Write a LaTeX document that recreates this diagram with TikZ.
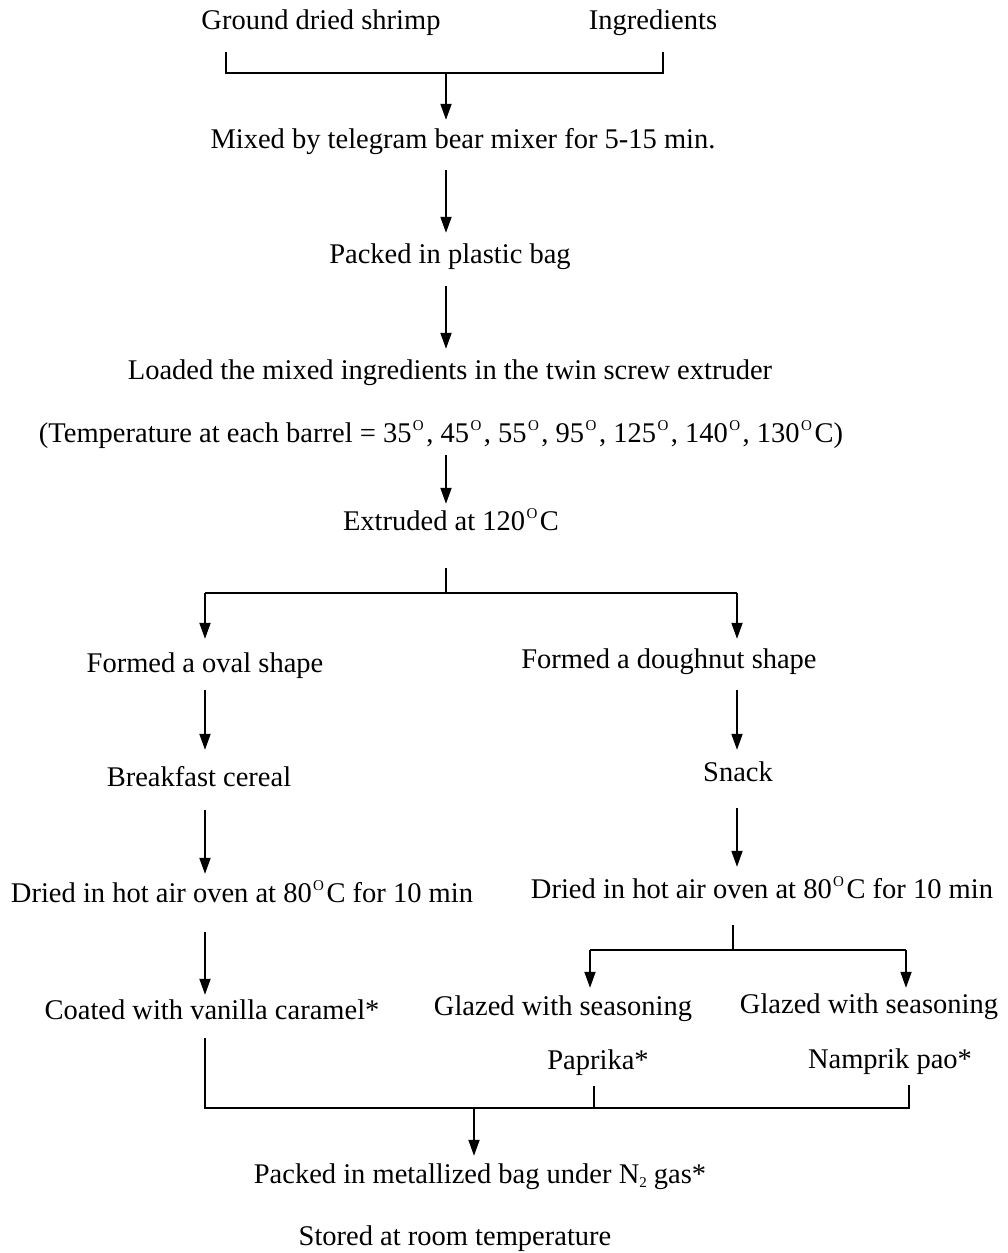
\documentclass[tikz,border=0pt]{standalone}
\usepackage{fontspec}
\setmainfont{Liberation Serif}
\usetikzlibrary{arrows.meta}
\newcommand{\dg}{\kern1.5pt\raisebox{12pt}{\fontsize{15}{15}\selectfont O}\kern2.5pt}
\begin{document}
\begin{tikzpicture}[x=1pt,y=-1pt,
  lbl/.style={inner sep=0pt, anchor=base, font=\fontsize{28.5}{30}\selectfont, text height=18pt, text depth=6pt},
  ln/.style={line width=1.8pt},
  arr/.style={line width=1.8pt, -{Triangle[length=16pt,width=11pt]}}]
\useasboundingbox (0,0) rectangle (1008,1253);
% columns
\coordinate (cM) at (446,0);
\coordinate (cL) at (205,0);
\coordinate (cR) at (737,0);
\coordinate (cB) at (474,0);
% nodes
\node[lbl] (gds) at (321,29) {Ground dried shrimp};
\node[lbl] (ing) at (653,29) {Ingredients};
\node[lbl] (mix) at (463,148) {Mixed by telegram bear mixer for 5-15 min.};
\node[lbl] (pk1) at (450,263) {Packed in plastic bag};
\node[lbl] (lod) at (450,379) {Loaded the mixed ingredients in the twin screw extruder};
\node[lbl] (tmp) at (441,442) {(Temperature at each barrel = 35\dg, 45\dg, 55\dg, 95\dg, 125\dg, 140\dg, 130\dg C)};
\node[lbl] (ext) at (451,530) {Extruded at 120\dg C};
\node[lbl] (ova) at (205,672) {Formed a oval shape};
\node[lbl] (dou) at (669,668) {Formed a doughnut shape};
\node[lbl] (brk) at (199,786) {Breakfast cereal};
\node[lbl] (snk) at (738,781) {Snack};
\node[lbl] (drL) at (242,902) {Dried in hot air oven at 80\dg C for 10 min};
\node[lbl] (drR) at (762,898) {Dried in hot air oven at 80\dg C for 10 min};
\node[lbl] (coa) at (212,1019) {Coated with vanilla caramel*};
\node[lbl] (gz1) at (563,1015) {Glazed with seasoning};
\node[lbl] (gz2) at (869,1013) {Glazed with seasoning};
\node[lbl] (pap) at (598,1069) {Paprika*};
\node[lbl] (nam) at (890,1068) {Namprik pao*};
\node[lbl] (pkN) at (480,1183) {Packed in metallized bag under N\raisebox{-4pt}{\fontsize{15}{15}\selectfont 2} gas*};
\node[lbl] (sto) at (455,1245) {Stored at room temperature};
% junction coordinates
\coordinate (j1L) at (226,73);
\coordinate (j1R) at (663,73);
\coordinate (j1) at (446,73);
\coordinate (j2) at (446,593);
\coordinate (j2L) at (205,593);
\coordinate (j2R) at (737,593);
\coordinate (j3) at (733,950);
\coordinate (j3L) at (590,950);
\coordinate (j3R) at (906,950);
\coordinate (j4L) at (205,1108);
\coordinate (j4P) at (594,1108);
\coordinate (j4N) at (909,1108);
\coordinate (j4) at (474,1108);
% top bracket
\draw[ln] (j1L |- 0,52) -- (j1L) -- (j1R) -- (j1R |- 0,52);
\draw[arr] (j1) -- (mix.north -| cM) [shorten >=10pt];
\draw[arr, shorten <=16pt, shorten >=12pt] (mix.south -| cM) -- (pk1.north -| cM);
\draw[arr, shorten <=17pt, shorten >=12pt] (pk1.south -| cM) -- (lod.north -| cM);
\draw[arr, shorten <=7pt, shorten >=8pt] (tmp.south -| cM) -- (ext.north -| cM);
% split after extrusion
\draw[ln, shorten <=32pt] (ext.south -| cM) -- (j2);
\draw[ln] (j2L) -- (j2R);
\draw[arr, shorten >=15pt] (j2L) -- (ova.north -| cL);
\draw[arr, shorten >=11pt] (j2R) -- (dou.north -| cR);
% left column
\draw[arr, shorten <=12pt, shorten >=18pt] (ova.south -| cL) -- (brk.north -| cL);
\draw[arr, shorten <=18pt, shorten >=10pt] (brk.south -| cL) -- (drL.north -| cL);
\draw[arr, shorten <=24pt, shorten >=6pt] (drL.south -| cL) -- (coa.north -| cL);
% right column
\draw[arr, shorten <=16pt, shorten >=13pt] (dou.south -| cR) -- (snk.north -| cR);
\draw[arr, shorten <=21pt, shorten >=13pt] (snk.south -| cR) -- (drR.north -| cR);
\draw[ln, shorten <=21pt] (drR.south -| j3) -- (j3);
\draw[ln] (j3L) -- (j3R);
\draw[arr, shorten >=9pt] (j3L) -- (gz1.north -| j3L);
\draw[arr, shorten >=7pt] (j3R) -- (gz2.north -| j3R);
% merge
\draw[ln, shorten <=13pt] (coa.south -| j4L) -- (j4L) -- (j4N) -- (nam.south -| j4N) [shorten >=11pt];
\draw[ln, shorten <=11pt] (pap.south -| j4P) -- (j4P);
\draw[arr, shorten >=9pt] (j4) -- (pkN.north -| cB);
\end{tikzpicture}
\end{document}
